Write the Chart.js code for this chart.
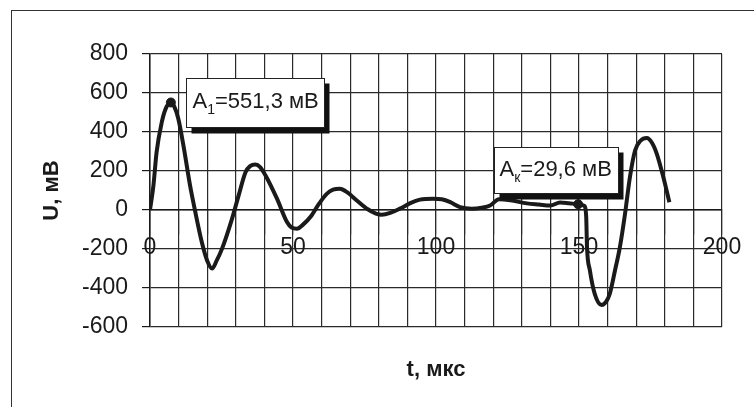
<!DOCTYPE html>
<html>
<head>
<meta charset="utf-8">
<script src="https://cdn.jsdelivr.net/npm/chart.js@4/dist/chart.umd.min.js"></script>
<style>
  html, body { margin: 0; padding: 0; background: #fff; }
  #wrap { position: relative; width: 754px; height: 407px; overflow: hidden; }
  #frame { position: absolute; left: 11px; top: 10px; width: 800px; height: 500px;
           border-left: 1.5px solid #333; border-top: 1.5px solid #333; }
  canvas { position: absolute; left: 0; top: 0; }
</style>
</head>
<body>
<div id="wrap">
  <div id="frame"></div>
  <canvas id="c" width="754" height="407"></canvas>
</div>
<script>
// ---- data ----
const timeUs = [0, 1.2, 2.3, 4.1, 5.5, 7.3, 8.5, 9.9, 11.8, 14.0, 15.7, 18.1, 20.0, 21.7, 23.3, 25.2,
  28.7, 31.0, 33.4, 35.0, 36.9, 38.5, 40.4, 44.4, 47.9, 49.5, 51.4, 53.5, 56.5, 59.0, 61.8, 64.0,
  66.4, 69.0, 72.3, 76.0, 79.0, 81.0, 84.0, 87.4, 91.0, 94.4, 99.0, 102.0, 105.0, 108.4, 112.5,
  116.0, 118.9, 122.0, 126.0, 131.8, 136.0, 140.0, 143.4, 146.5, 149.7, 151.8, 152.5, 152.8,
  153.8, 155.5, 157.9, 159.5, 160.8, 162.6, 164.3, 166.1, 167.8, 169.6, 171.5, 173.7, 175.5,
  177.2, 179.5, 181.6];
const voltageMv = [0, 126, 296, 449, 520, 551, 530, 468, 321, 126, 0, -164, -260, -300, -260, -198,
  -44, 75, 194, 225, 233, 220, 177, 58, -62, -90, -96, -75, -28, 30, 83, 104,
  109, 90, 49, 5, -18, -24, -15, 7, 35, 53, 58, 55, 40, 15, 7,
  12, 23, 55, 50, 34, 28, 23, 39, 35, 29.6, 22, -30, -190,
  -309, -430, -487, -470, -428, -309, -190, -19, 168, 305, 355, 369, 345,
  288, 168, 40];
const markerT = [7.3, 149.7];
const markerU = [551.3, 29.6];
const markerSub = ['1', 'к'];
const markerText = ['=551,3 мВ', '=29,6 мВ'];
const xTicks = [0, 50, 100, 150, 200];
const yTicks = [-600, -400, -200, 0, 200, 400, 600, 800];

const FONT = "'Liberation Sans', Arial, sans-serif";
const INK = '#1a1a1a';
const GRID = '#2a2a2a';

// label box placement relative to the marker (px)
const boxLayout = [
  { dx: 15, dy: -24, w: 138, h: 49, textDx: 6, baseDy: 29 },
  { dx: -84, dy: -57, w: 124, h: 46, textDx: 5, baseDy: 28 }
];

const calloutPlugin = {
  id: 'callouts',
  afterDatasetsDraw(chart) {
    const ctx = chart.ctx;
    const xs = chart.scales.x, ys = chart.scales.y;
    ctx.save();
    markerT.forEach((t, i) => {
      const px = xs.getPixelForValue(t), py = ys.getPixelForValue(markerU[i]);
      const L = boxLayout[i];
      const bx = Math.round(px + L.dx) + 0.5, by = Math.round(py + L.dy) + 0.5;
      ctx.fillStyle = '#111';
      ctx.fillRect(bx + 5, by + 5, L.w, L.h + 1);
      ctx.fillStyle = '#fff';
      ctx.fillRect(bx, by, L.w, L.h);
      ctx.strokeStyle = '#222';
      ctx.lineWidth = 1;
      ctx.strokeRect(bx, by, L.w, L.h);
      ctx.fillStyle = INK;
      ctx.textBaseline = 'alphabetic';
      ctx.textAlign = 'left';
      let x = bx + L.textDx;
      const base = by + L.baseDy;
      ctx.font = '22px ' + FONT;
      ctx.fillText('A', x, base);
      x += ctx.measureText('A').width;
      ctx.font = '14px ' + FONT;
      ctx.fillText(markerSub[i], x, base + 6);
      x += ctx.measureText(markerSub[i]).width;
      ctx.font = '22px ' + FONT;
      ctx.fillText(markerText[i], x, base);
    });
    ctx.restore();
  }
};

new Chart(document.getElementById('c'), {
  type: 'line',
  data: {
    datasets: [
      {
        label: 'U',
        data: timeUs.map((t, i) => ({ x: t, y: voltageMv[i] })),
        borderColor: INK,
        borderWidth: 4,
        pointRadius: 0,
        cubicInterpolationMode: 'monotone',
        fill: false,
        xAxisID: 'x', yAxisID: 'y'
      },
      {
        label: 'markers',
        data: markerT.map((t, i) => ({ x: t, y: markerU[i] })),
        showLine: false,
        pointRadius: 4.5,
        pointBackgroundColor: INK,
        pointBorderColor: INK,
        xAxisID: 'x', yAxisID: 'y'
      }
    ]
  },
  options: {
    responsive: false,
    animation: false,
    events: [],
    layout: { padding: { top: 54, right: 32, bottom: 0, left: 0 } },
    plugins: { legend: { display: false }, tooltip: { enabled: false } },
    scales: {
      x: {
        type: 'linear',
        position: { y: 0 },
        min: 0, max: 200,
        grid: { color: GRID, lineWidth: 1.2, drawTicks: true, tickLength: 24, tickColor: GRID },
        border: { display: true, color: INK, width: 1.5 },
        ticks: {
          stepSize: 10, maxTicksLimit: 30, autoSkip: false, maxRotation: 0, padding: 0,
          color: INK, font: { family: FONT, size: 23 },
          callback: v => (xTicks.includes(v) ? String(v) : '')
        }
      },
      xt: {
        type: 'linear',
        position: 'bottom',
        min: 0, max: 200,
        grid: { display: false },
        border: { display: false },
        ticks: { display: false },
        title: { display: true, text: 't, мкс', color: INK,
                 font: { family: FONT, size: 22, weight: 'bold' },
                 padding: { top: 0, bottom: 24 } },
        afterFit: s => { s.height = 80; }
      },
      y: {
        type: 'linear',
        position: 'left',
        min: -600, max: 800,
        grid: { color: GRID, lineWidth: 1.2, tickLength: 8, tickColor: INK },
        border: { display: true, color: INK, width: 1.5 },
        ticks: {
          stepSize: 200, padding: 14, color: INK,
          font: { family: FONT, size: 23 },
          callback: v => (yTicks.includes(v) ? String(v) : '')
        },
        title: { display: true, text: 'U, мВ', color: INK,
                 font: { family: FONT, size: 22, weight: 'bold' },
                 padding: { top: 39, bottom: 0 } },
        afterFit: s => { s.width = 150; }
      }
    }
  },
  plugins: [calloutPlugin]
});
</script>
</body>
</html>
